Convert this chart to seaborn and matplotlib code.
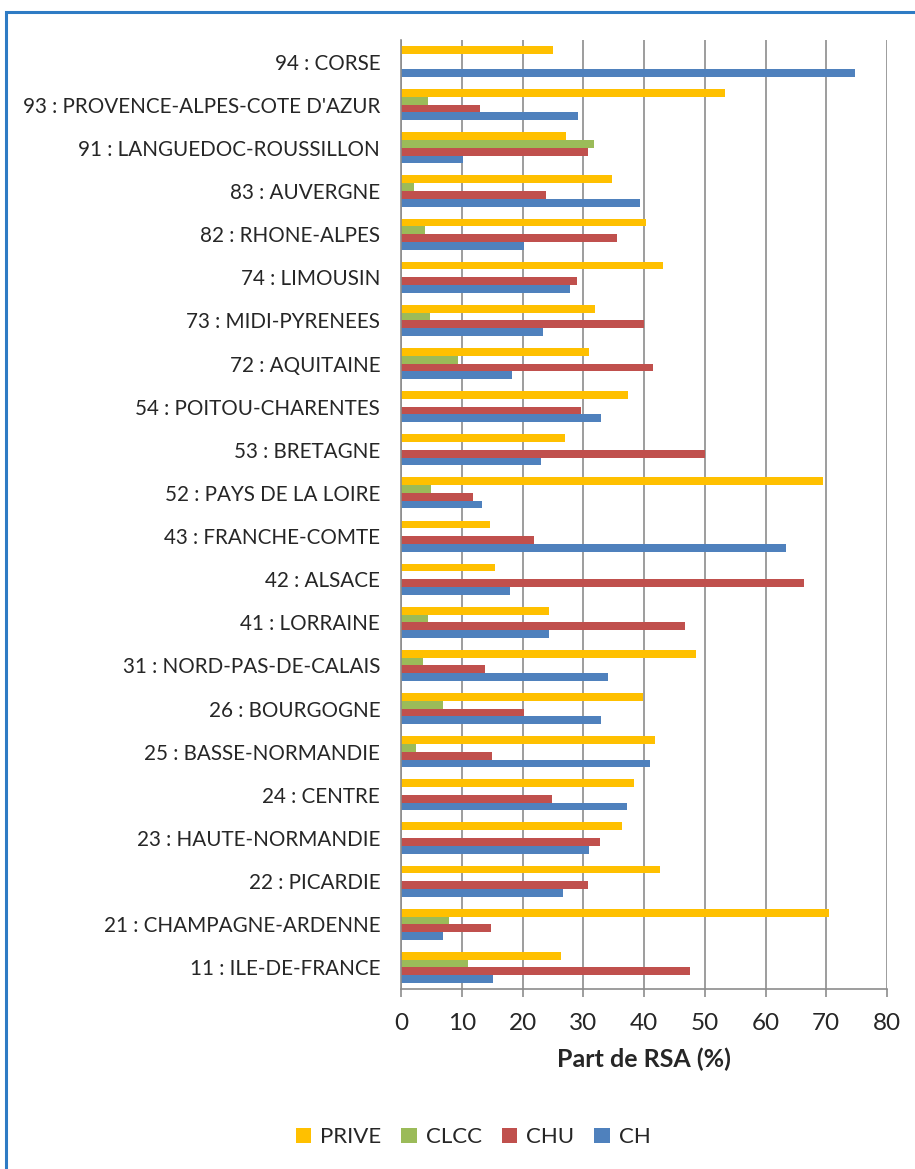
import pandas as pd
import seaborn as sns
import matplotlib.pyplot as plt
from matplotlib.patches import Rectangle

# ----------------------------------
# Data
# ----------------------------------
regions = [
    "94 : CORSE", "93 : PROVENCE-ALPES-COTE D'AZUR", "91 : LANGUEDOC-ROUSSILLON",
    "83 : AUVERGNE", "82 : RHONE-ALPES", "74 : LIMOUSIN", "73 : MIDI-PYRENEES",
    "72 : AQUITAINE", "54 : POITOU-CHARENTES", "53 : BRETAGNE",
    "52 : PAYS DE LA LOIRE", "43 : FRANCHE-COMTE", "42 : ALSACE", "41 : LORRAINE",
    "31 : NORD-PAS-DE-CALAIS", "26 : BOURGOGNE", "25 : BASSE-NORMANDIE",
    "24 : CENTRE", "23 : HAUTE-NORMANDIE", "22 : PICARDIE",
    "21 : CHAMPAGNE-ARDENNE", "11 : ILE-DE-FRANCE",
]
prive = [25.1, 53.4, 27.2, 34.8, 40.3, 43.1, 32.0, 31.0, 37.3, 27.0, 69.5,
         14.7, 15.5, 24.4, 48.6, 39.9, 41.8, 38.3, 36.3, 42.7, 70.4, 26.4]
clcc = [0, 4.5, 31.8, 2.2, 3.9, 0, 4.7, 9.4, 0, 0, 4.9,
        0, 0, 4.5, 3.7, 6.9, 2.4, 0, 0, 0, 7.9, 11.1]
chu = [0, 13.0, 30.8, 23.8, 35.6, 28.9, 40.0, 41.4, 29.7, 50.0, 11.9,
       21.9, 66.4, 46.7, 13.8, 20.2, 14.9, 24.9, 32.7, 30.8, 14.8, 47.5]
ch = [74.8, 29.1, 10.2, 39.3, 20.2, 27.9, 23.3, 18.3, 32.9, 23.0, 13.4,
      63.4, 17.9, 24.4, 34.0, 32.9, 41.0, 37.2, 31.0, 26.6, 6.9, 15.1]

series = ["PRIVE", "CLCC", "CHU", "CH"]
colors = ["#FFC000", "#9BBB59", "#C0504D", "#4F81BD"]

# long-form table for seaborn
df = pd.DataFrame({
    "Region": regions * 4,
    "Type": [s for s in series for _ in regions],
    "Part": prive + clcc + chu + ch,
})

# ----------------------------------
# Plot
# ----------------------------------
sns.set_theme(style="white")
plt.rcParams["font.family"] = ["Lato", "DejaVu Sans"]
plt.rcParams["text.color"] = "#262626"

fig = plt.figure(figsize=(9.15, 11.69), dpi=100)
ax = fig.add_axes([401 / 915, 1 - 989 / 1169, 486 / 915, 949 / 1169])

sns.barplot(data=df, y="Region", x="Part", hue="Type", order=regions,
            hue_order=series, palette=colors, saturation=1, orient="h",
            width=0.72, errorbar=None, linewidth=0, ax=ax)

grid_col = "#8C8C8C"
ax.set_xlim(0, 80)
ax.set_xticks(range(0, 81, 10))
ax.xaxis.grid(True, color=grid_col, linewidth=1.2)
ax.set_axisbelow(True)
for side in ["top", "right"]:
    ax.spines[side].set_visible(False)
for side in ["left", "bottom"]:
    ax.spines[side].set_color(grid_col)
    ax.spines[side].set_linewidth(1.2)

ax.tick_params(axis="x", direction="out", length=6, color=grid_col,
               width=1.2, labelsize=17.5, pad=11, bottom=True,
               labelcolor="#262626")
ax.tick_params(axis="y", length=0, labelsize=14.9, pad=15,
               labelcolor="#262626")
ax.set_ylabel("")
ax.set_xlabel("Part de RSA (%)", fontsize=18, fontweight="bold", labelpad=10)

# legend along the bottom
handles, labels = ax.get_legend_handles_labels()
ax.get_legend().remove()
fig.legend(handles, labels, loc="center", bbox_to_anchor=(0.517, 0.027),
           ncol=4, frameon=False, fontsize=16, handlelength=0.7,
           handleheight=0.7, handletextpad=0.4, columnspacing=0.9)

# blue frame round the chart
fig.patches.append(Rectangle((6 / 915, -0.05), 1.1, 1 - 12 / 1169 + 0.05,
                             transform=fig.transFigure, fill=False,
                             edgecolor="#2E7BC4", linewidth=2.2))

plt.savefig("out.png", dpi=100)
